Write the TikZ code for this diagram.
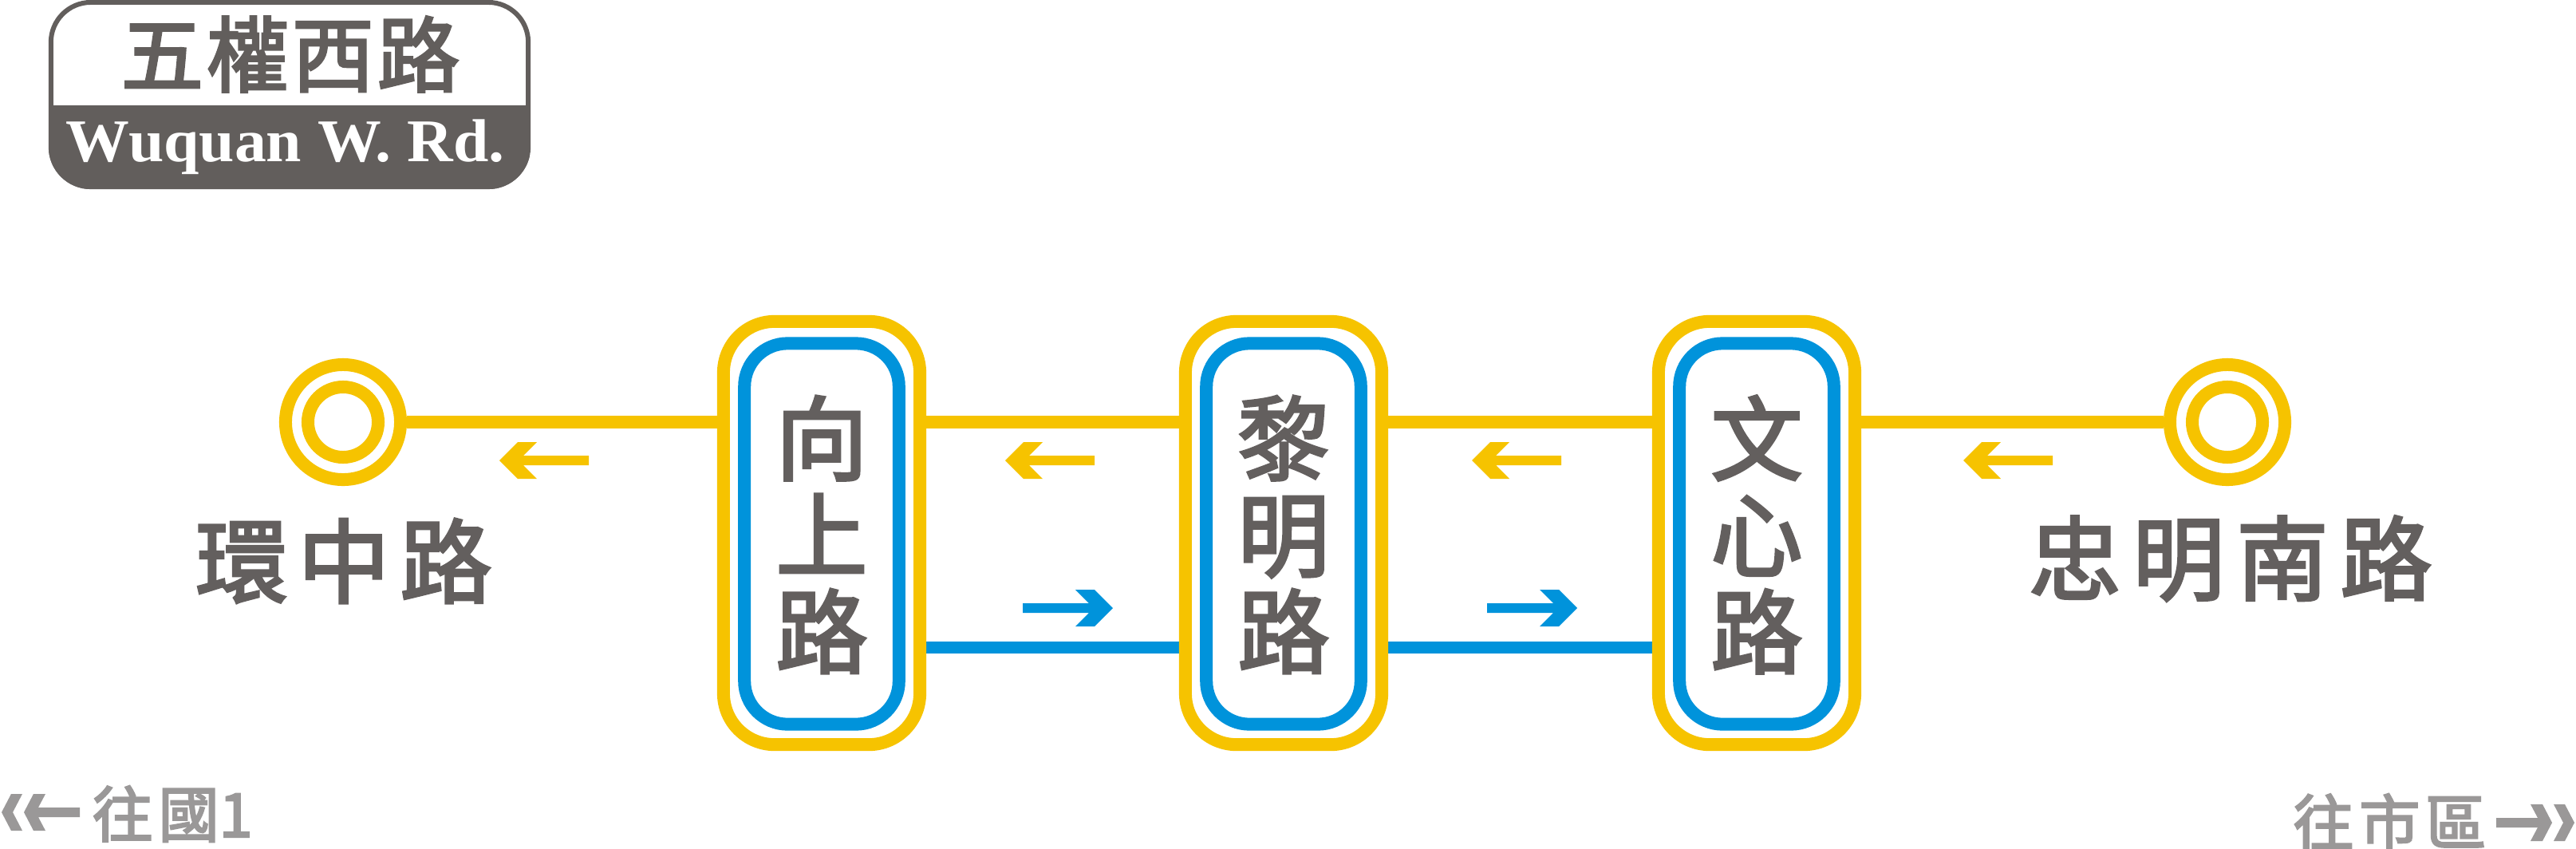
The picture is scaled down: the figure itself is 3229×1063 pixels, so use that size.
\documentclass[tikz,border=0pt]{standalone}
\usepackage{graphicx}
\usepackage{fontspec}
\setmainfont{Liberation Serif}
\newfontfamily\cjk{Noto Sans CJK TC}[FakeBold=3]
\usetikzlibrary{calc}
\pgfdeclarelayer{bg}
\pgfsetlayers{bg,main}
\definecolor{ylw}{HTML}{F6C300}
\definecolor{blu}{HTML}{0093DB}
\definecolor{txtgray}{HTML}{635F5E}
\definecolor{labgray}{HTML}{625E5C}
\definecolor{ltgray}{HTML}{9A9898}
\tikzset{
  yline/.style={draw=ylw, line width=0.16cm},
  bline/.style={draw=blu, line width=0.15cm},
  youter/.style={draw=ylw, fill=white, line width=0.16cm, rounded corners=0.64cm,
    minimum width=2.46cm, minimum height=5.3cm, inner sep=0},
  binner/.style={draw=blu, line width=0.16cm, rounded corners=0.54cm,
    minimum width=1.935cm, minimum height=4.77cm, inner sep=0},
  ring/.style={circle, draw=ylw, fill=white, line width=0.16cm, inner sep=0},
  stname/.style={font=\cjk\fontsize{32.7pt}{34.4pt}\selectfont, text=txtgray, align=center, inner sep=0},
  endname/.style={font=\cjk\fontsize{32.7pt}{34pt}\selectfont, text=txtgray, inner sep=0},
  dirname/.style={font=\cjk\fontsize{21.6pt}{22pt}\selectfont, text=ltgray, inner sep=0},
  pics/yarr/.style={code={\fill[ylw] (0,0) -- (23,-23) -- (47,-23) -- (30,-6) -- (112,-6) -- (112,6) -- (30,6) -- (47,23) -- (23,23) -- cycle;}},
  pics/barr/.style={code={\fill[blu] (0,0) -- (-23,-23) -- (-47,-23) -- (-30,-6) -- (-113,-6) -- (-113,6) -- (-30,6) -- (-47,23) -- (-23,23) -- cycle;}},
  pics/garr/.style={code={
    \fill[ltgray] (2,0) -- (14,-23) -- (28,-23) -- (16,0) -- (28,23) -- (14,23) -- cycle;
    \fill[ltgray] (30,0) -- (42,-23) -- (57,-23) -- (48,-6) -- (100,-6) -- (100,6) -- (48,6) -- (57,23) -- (42,23) -- cycle;}},
}
\begin{document}
\begin{tikzpicture}[x=0.01cm,y=-0.01cm]
\useasboundingbox (0,0) rectangle (3229,1063);

% road label
\node[draw=labgray, fill=white, line width=0.06cm, rounded corners=0.5cm,
  minimum width=5.98cm, minimum height=2.31cm, inner sep=0] (lab) at (363,118.5) {};
\coordinate (dv) at (0,132);
\begin{scope}
  \clip[rounded corners=0.53cm] (lab.south west) rectangle (lab.north east);
  \fill[labgray] (lab.south west) rectangle (lab.east |- dv);
\end{scope}
\node[font=\cjk\fontsize{29.3pt}{30pt}\selectfont, text=labgray, inner sep=0] (labzh) at (364,68)
  {五\kern0.04cm 權\kern0.04cm 西\kern0.04cm 路};
\node[font=\bfseries\fontsize{21.6pt}{22pt}\selectfont, text=white, inner sep=0, anchor=base west] (laben) at (82,202)
  {\scalebox{1.05}[1]{Wuquan W. Rd.}};

% terminals
\node[ring, minimum size=1.44cm] (cL) at (430,529) {};
\node[ring, minimum size=0.88cm] (cLi) at (430,529) {};
\node[ring, minimum size=1.44cm] (cR) at (2792,529) {};
\node[ring, minimum size=0.88cm] (cRi) at (2792,529) {};

% stations
\node[youter] (s1) at (1030,668) {};
\node[binner] (s1b) at (1030,669) {};
\node[stname] (s1t) at (1030,670) {向\\上\\路};
\node[youter] (s2) at (1609,668) {};
\node[binner] (s2b) at (1609,669) {};
\node[stname] (s2t) at (1609,670) {黎\\明\\路};
\node[youter] (s3) at (2202,668) {};
\node[binner] (s3b) at (2202,669) {};
\node[stname] (s3t) at (2202,670) {文\\心\\路};

% connectors
\begin{pgfonlayer}{bg}
  \fill[white] (0,0) rectangle (3229,1063);
  \draw[yline] (cL) -- (s1 |- cL);
  \draw[yline] (s1 |- cL) -- (s2 |- cL);
  \draw[yline] (s2 |- cL) -- (s3 |- cL);
  \draw[yline] (s3 |- cR) -- (cR);
  \draw[bline] ($(s1)+(0,143)$) -- ($(s2)+(0,143)$);
  \draw[bline] ($(s2)+(0,143)$) -- ($(s3)+(0,143)$);
\end{pgfonlayer}

% direction arrows
\pic at (626,577) {yarr};
\pic at (1260,577) {yarr};
\pic at (1845,577) {yarr};
\pic at (2461,577) {yarr};
\pic at (1395,762) {barr};
\pic at (1977,762) {barr};

% terminal names
\node[endname] (nL) at (431,703) {環\kern0.13cm 中\kern0.13cm 路};
\node[endname] (nR) at (2796,700) {忠\kern0.15cm 明\kern0.15cm 南\kern0.15cm 路};

% bottom directions
\pic at (0,1018) {garr};
\node[dirname, anchor=west] (dL) at (115,1020) {往\kern0.07cm 國1};
\pic[xscale=-1] at (3229,1031) {garr};
\node[dirname, anchor=east] (dR) at (3117,1030) {往\kern0.07cm 市\kern0.07cm 區};
\end{tikzpicture}
\end{document}
